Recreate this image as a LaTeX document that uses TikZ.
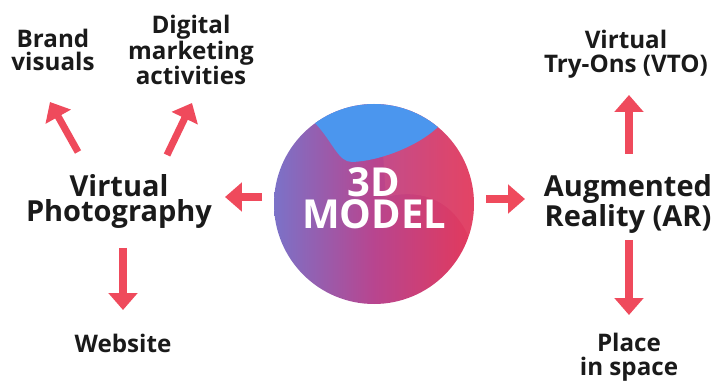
\documentclass[tikz,border=0pt]{standalone}
\usepackage{fontspec}
\setmainfont{Open Sans}
\usepackage{xcolor}
\usetikzlibrary{arrows.meta, positioning, calc}
\definecolor{ArrowRed}{HTML}{EF4A5C}
\definecolor{DiscViolet}{HTML}{7B72C8}
\definecolor{DiscMagenta}{HTML}{B8458F}
\definecolor{DiscRed}{HTML}{E3395B}
\definecolor{DiscBlue}{HTML}{4B96EE}
\definecolor{Ink}{HTML}{1A1A1A}
\tikzset{
  smalltxt/.style={inner sep=0, align=center, text=Ink, font=\bfseries\fontsize{17.2}{16.9}\selectfont},
  bigtxt/.style={inner sep=0, align=center, text=Ink, font=\bfseries\fontsize{20.6}{17.8}\selectfont},
  disctxt/.style={inner sep=0, align=center, text=white, font=\bfseries\fontsize{28.4}{22.8}\selectfont},
  arr/.style={draw=ArrowRed, line width=5pt, -{Triangle[length=12pt, width=20pt]}}
}

\begin{document}
\begin{tikzpicture}[x=0.025cm, y=-0.025cm]
    \useasboundingbox (0,0) rectangle (726,381);

    % The model disc
    \coordinate (disc) at (374,204);
    \shade[left color=DiscViolet, right color=DiscRed, middle color=DiscMagenta] (disc) circle[radius=100];
    \begin{scope}
        \clip (disc) circle[radius=100];
        \fill[DiscRed!70!white, opacity=0.18] (380,110) -- (386,197) .. controls (430,186) and (462,208) .. (474,252) -- (480,252) -- (480,110) -- cycle;
        \fill[DiscBlue] (300,95) -- (315,123) .. controls (333,142) and (338,162) .. (352,162) .. controls (380,161) and (418,146) .. (438,127) -- (460,95) -- cycle;
    \end{scope}
    \node[disctxt] (model) at (374,198) {3D\\MODEL};

    % Virtual photography branch
    \node[bigtxt] (vp) at (119,201) {Virtual\\Photography};
    \node[smalltxt] (brand) at (53,50) {Brand\\visuals};
    \node[smalltxt] (digital) at (191,50) {Digital\\marketing\\activities};
    \node[smalltxt, anchor=base] (web) at (123,353) {Website};

    % Augmented reality branch
    \node[bigtxt] (ar) at (628,204) {Augmented\\Reality (AR)};
    \node[smalltxt] (vto) at (626,54) {Virtual\\Try-Ons (VTO)};
    \node[smalltxt] (place) at (629,357) {Place\\in space};

    % Arrows
    \draw[arr] ($(model)+(-112,-1)$) -- ($(vp)+(106,-4)$);
    \draw[arr] ($(model)+(112,1)$) -- ($(ar)+(-103,-5)$);
    \draw[arr] ($(vp)+(-41,-49)$) -- ($(brand)+(-3,52)$);
    \draw[arr] ($(vp)+(48,-46)$) -- ($(digital)+(1,53)$);
    \draw[arr] ($(vp)+(4,47)$) -- ($(web.base)+(0,-43)$);
    \draw[arr] ($(ar)+(1,-50)$) -- ($(vto)+(3,41)$);
    \draw[arr] ($(ar)+(1,36)$) -- ($(place)+(0,-42)$);
\end{tikzpicture}
\end{document}
